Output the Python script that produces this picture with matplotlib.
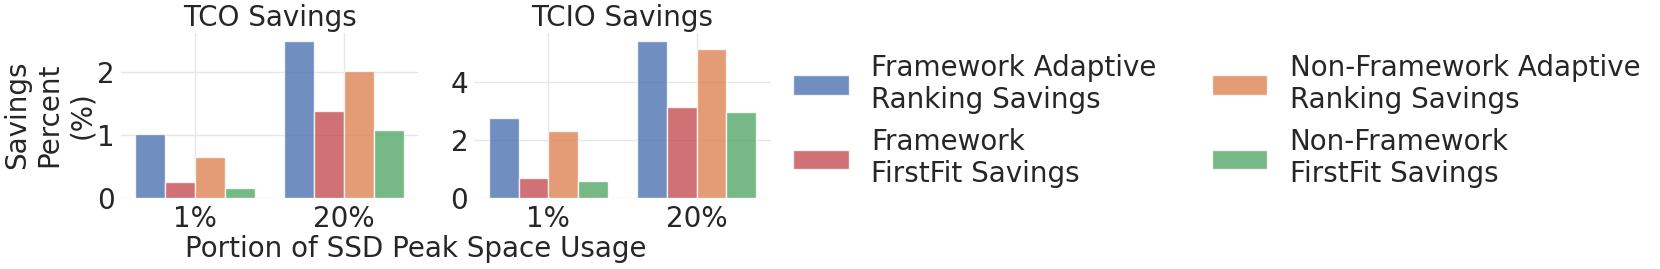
import numpy as np
import matplotlib
matplotlib.use("Agg")
import matplotlib.pyplot as plt

# data
groups = ['1%', '20%']
labels = ['Framework Adaptive\nRanking Savings', 'Framework\nFirstFit Savings',
          'Non-Framework Adaptive\nRanking Savings', 'Non-Framework\nFirstFit Savings']
colors = ['#4C72B0', '#C44E52', '#DD8452', '#55A868']

tco_fw_adaptive = [1.02, 2.50]
tco_fw_firstfit = [0.26, 1.39]
tco_nfw_adaptive = [0.65, 2.02]
tco_nfw_firstfit = [0.16, 1.09]

tcio_fw_adaptive = [2.75, 5.40]
tcio_fw_firstfit = [0.70, 3.14]
tcio_nfw_adaptive = [2.31, 5.12]
tcio_nfw_firstfit = [0.59, 2.97]

plt.rcParams['font.family'] = ['DejaVu Sans']
plt.rcParams['text.color'] = '#262626'
plt.rcParams['axes.labelcolor'] = '#262626'
plt.rcParams['xtick.color'] = '#262626'
plt.rcParams['ytick.color'] = '#262626'

fig = plt.figure(figsize=(16.6, 2.69), dpi=100)
ax1 = fig.add_axes([0.0726, 0.264, 0.1795, 0.613])
ax2 = fig.add_axes([0.2855, 0.264, 0.179, 0.613])


def draw(ax, series, title, yticks):
    x = np.arange(len(groups))
    w = 0.2
    for i, vals in enumerate(series):
        ax.bar(x - 0.3 + i * w, vals, width=w, color=colors[i], alpha=0.8,
               edgecolor='white', linewidth=1, label=labels[i], zorder=2)
    ax.set_xlim(-0.5, 1.5)
    ax.set_xticks(x)
    ax.set_xticklabels(groups)
    ax.set_yticks(yticks)
    ax.grid(True, color='#e6e6e6', linewidth=1, zorder=0)
    ax.set_axisbelow(True)
    for s in ax.spines.values():
        s.set_visible(False)
    ax.tick_params(axis='both', length=0, labelsize=20)
    ax.tick_params(axis='y', pad=4)
    ax.tick_params(axis='x', pad=5)
    ax.set_title(title, fontsize=20, pad=5)


draw(ax1, [tco_fw_adaptive, tco_fw_firstfit, tco_nfw_adaptive, tco_nfw_firstfit],
     'TCO Savings', [0, 1, 2])
draw(ax2, [tcio_fw_adaptive, tcio_fw_firstfit, tcio_nfw_adaptive, tcio_nfw_firstfit],
     'TCIO Savings', [0, 2, 4])

fig.text(49.5 / 1660, 1 - 115 / 269, 'Savings\nPercent\n(%)', rotation=90,
         ha='center', va='center', multialignment='center', fontsize=20)
fig.text(416 / 1660, 12 / 269, 'Portion of SSD Peak Space Usage',
         ha='center', va='baseline', fontsize=20)

handles, labs = ax1.get_legend_handles_labels()
fig.legend(handles, labs, ncol=2, frameon=False, fontsize=20,
           loc='center left', bbox_to_anchor=(0.4627, 0.55))

plt.savefig('out.png', dpi=100)
